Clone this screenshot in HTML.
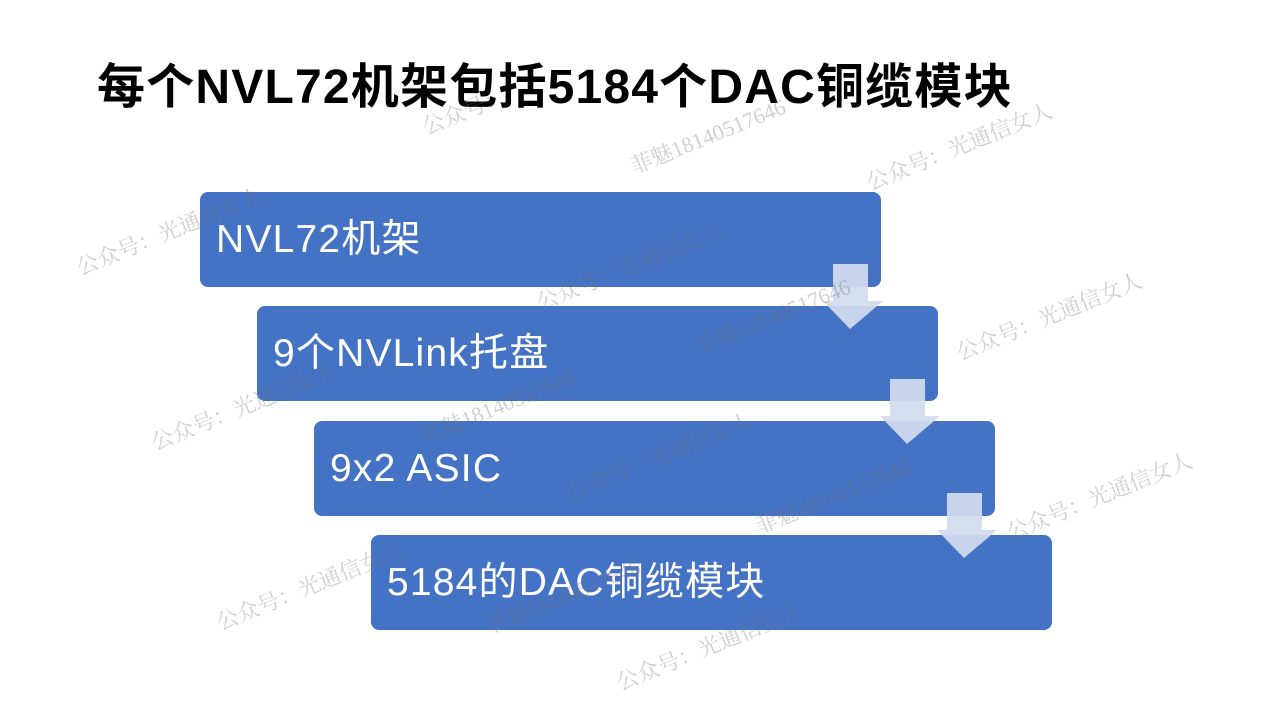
<!DOCTYPE html>
<html><head><meta charset="utf-8"><style>
body{margin:0;width:1280px;height:719px;background:#fff;position:relative;overflow:hidden;font-family:"Liberation Sans","Noto Sans CJK SC",sans-serif}
.t{position:absolute;left:97px;top:56px;font-size:48px;line-height:64px;font-weight:bold;color:#000;white-space:nowrap;letter-spacing:1.2px}
.b{position:absolute;width:681px;height:95px;background:#4472c4;border-radius:8px;color:#fff;font-size:39px;line-height:95px;box-sizing:border-box;padding-left:16px;white-space:nowrap;letter-spacing:1.2px}
.a{position:absolute}
.w{position:absolute;color:rgba(120,120,120,0.35);font-family:"Liberation Serif","Noto Serif CJK SC",serif;font-size:22px;transform:rotate(-22deg);white-space:nowrap}
</style></head><body>
<div class="t">每个NVL72机架包括5184个DAC铜缆模块</div>
<div class="b" style="left:200px;top:192px">NVL72机架</div>
<div class="b" style="left:257px;top:306px">9个NVLink托盘</div>
<div class="b" style="left:314px;top:421px">9x2 ASIC</div>
<div class="b" style="left:371px;top:535px">5184的DAC铜缆模块</div>
<svg class="a" style="left:0;top:0" width="1280" height="719">
<g fill="rgba(210,220,238,0.93)">
<polygon points="833,264 868,264 868,301 883,301 850,329 823,301 833,301"/>
<polygon points="890,379 925,379 925,416 940,416 907,444 880,416 890,416"/>
<polygon points="947,493 982,493 982,530 997,530 964,558 937,530 947,530"/>
</g></svg>
<div class="w" style="left:70px;top:215px">公众号：光通信女人</div>
<div class="w" style="left:420px;top:95px">公众号：</div>
<div class="w" style="left:625px;top:120px">菲魅18140517646</div>
<div class="w" style="left:860px;top:130px">公众号：光通信女人</div>
<div class="w" style="left:530px;top:250px">公众号：光通信女人</div>
<div class="w" style="left:690px;top:300px">菲魅18140517646</div>
<div class="w" style="left:950px;top:300px">公众号：光通信女人</div>
<div class="w" style="left:145px;top:390px">公众号：光通信女人</div>
<div class="w" style="left:415px;top:390px">菲魅18140517646</div>
<div class="w" style="left:560px;top:440px">公众号：光通信女人</div>
<div class="w" style="left:750px;top:480px">菲魅18140517646</div>
<div class="w" style="left:1000px;top:480px">公众号：光通信女人</div>
<div class="w" style="left:210px;top:570px">公众号：光通信女人</div>
<div class="w" style="left:480px;top:580px">菲魅18140517646</div>
<div class="w" style="left:610px;top:630px">公众号：光通信女人</div>
</body></html>
